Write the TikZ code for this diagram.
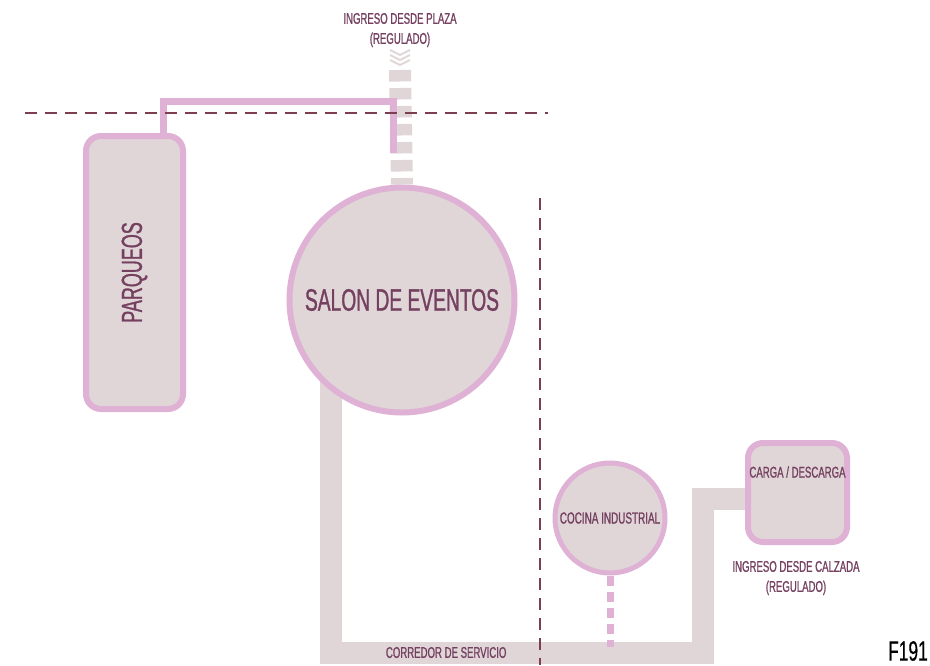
\documentclass[tikz,border=0pt]{standalone}
\usepackage{fontspec}
\setmainfont{Liberation Sans}[FakeStretch=0.62, FakeBold=1]
\newfontfamily\figfont{Liberation Sans}[FakeStretch=0.62, FakeBold=0.4]
\usetikzlibrary{positioning, calc, backgrounds}
\definecolor{pinkb}{RGB}{222,177,213}
\definecolor{fillc}{RGB}{224,214,216}
\definecolor{dashc}{RGB}{125,62,80}
\definecolor{textc}{RGB}{117,64,96}
\tikzset{
  room/.style={draw=pinkb, fill=fillc, line width=6pt, rounded corners=15pt, text=textc},
  hall/.style={draw=pinkb, fill=fillc, line width=#1, circle, inner sep=0pt, text=textc},
  lbl/.style={text=textc, align=center, font=\fontsize{15.5}{20}\selectfont},
  link/.style={draw=pinkb, line width=7pt},
  corridor/.style={draw=fillc, line width=22pt},
  cutline/.style={draw=dashc, line width=2pt, dash pattern=on 12pt off 8pt},
}

\begin{document}
\begin{tikzpicture}[x=1pt, y=-1pt,
      chev/.style={draw=fillc, line width=2pt},
      entry/.style={draw=fillc, line width=22pt, dash pattern=on 11.5pt off 6.5pt},
      pinkdash/.style={draw=pinkb, line width=7pt, dash pattern=on 10pt off 6pt}]
    \useasboundingbox (0,0) rectangle (930,665);
    \node[room, minimum width=97pt, minimum height=273pt] (parqueos) at (134.5,272.5)
      {\rotatebox{90}{\fontsize{29}{30}\selectfont PARQUEOS}};
    \node[hall=6pt, minimum size=225pt, font=\fontsize{31}{33}\selectfont] (salon) at (402,300) {SALON DE EVENTOS};
    \node[hall=5pt, minimum size=110pt, font=\fontsize{16}{18}\selectfont] (cocina) at (610,518) {COCINA INDUSTRIAL};
    \node[room, minimum width=99pt, minimum height=99pt] (carga) at (797.5,492.5) {};
    \node[lbl] (cargalbl) at ([yshift=-32pt]carga.north) {CARGA / DESCARGA};
    \node[lbl] (calzada) at (796,578) {INGRESO DESDE CALZADA\\(REGULADO)};
    \node[lbl] (plazalbl) at (400,30) {INGRESO DESDE PLAZA\\(REGULADO)};
    \node[font=\figfont\fontsize{28}{30}\selectfont, inner sep=0pt] (fig) at (908,651) {F191};
    \coordinate (plaza) at (400,70);
    \coordinate (tap) at (163,101);
    \coordinate (drop) at (393,153);
    \coordinate (cocinaend) at (610,647);
    \begin{scope}[on background layer]
      \draw[corridor] (salon.center -| 331,0) -- (331,652.5) -- node[lbl, pos=0.31] (corrlbl) {CORREDOR DE SERVICIO}
        (702.5,652.5) -- (702.5,499) -- ([yshift=-6.5pt]carga.west);
      \draw[entry] (plaza) -- (salon.north);
      \foreach \y in {50,55,60}
        \draw[chev] (390,\y) -- (400,\y+5) -- (410,\y);
    \end{scope}
    \draw[link] (parqueos.north -| tap) -- (tap) -| (drop);
    \draw[pinkdash] (cocina.south) -- (cocinaend);
    \draw[cutline] (25,113) -- (548,113);
    \draw[cutline] (540,198) -- (540,665);
  \end{tikzpicture}
\end{document}
